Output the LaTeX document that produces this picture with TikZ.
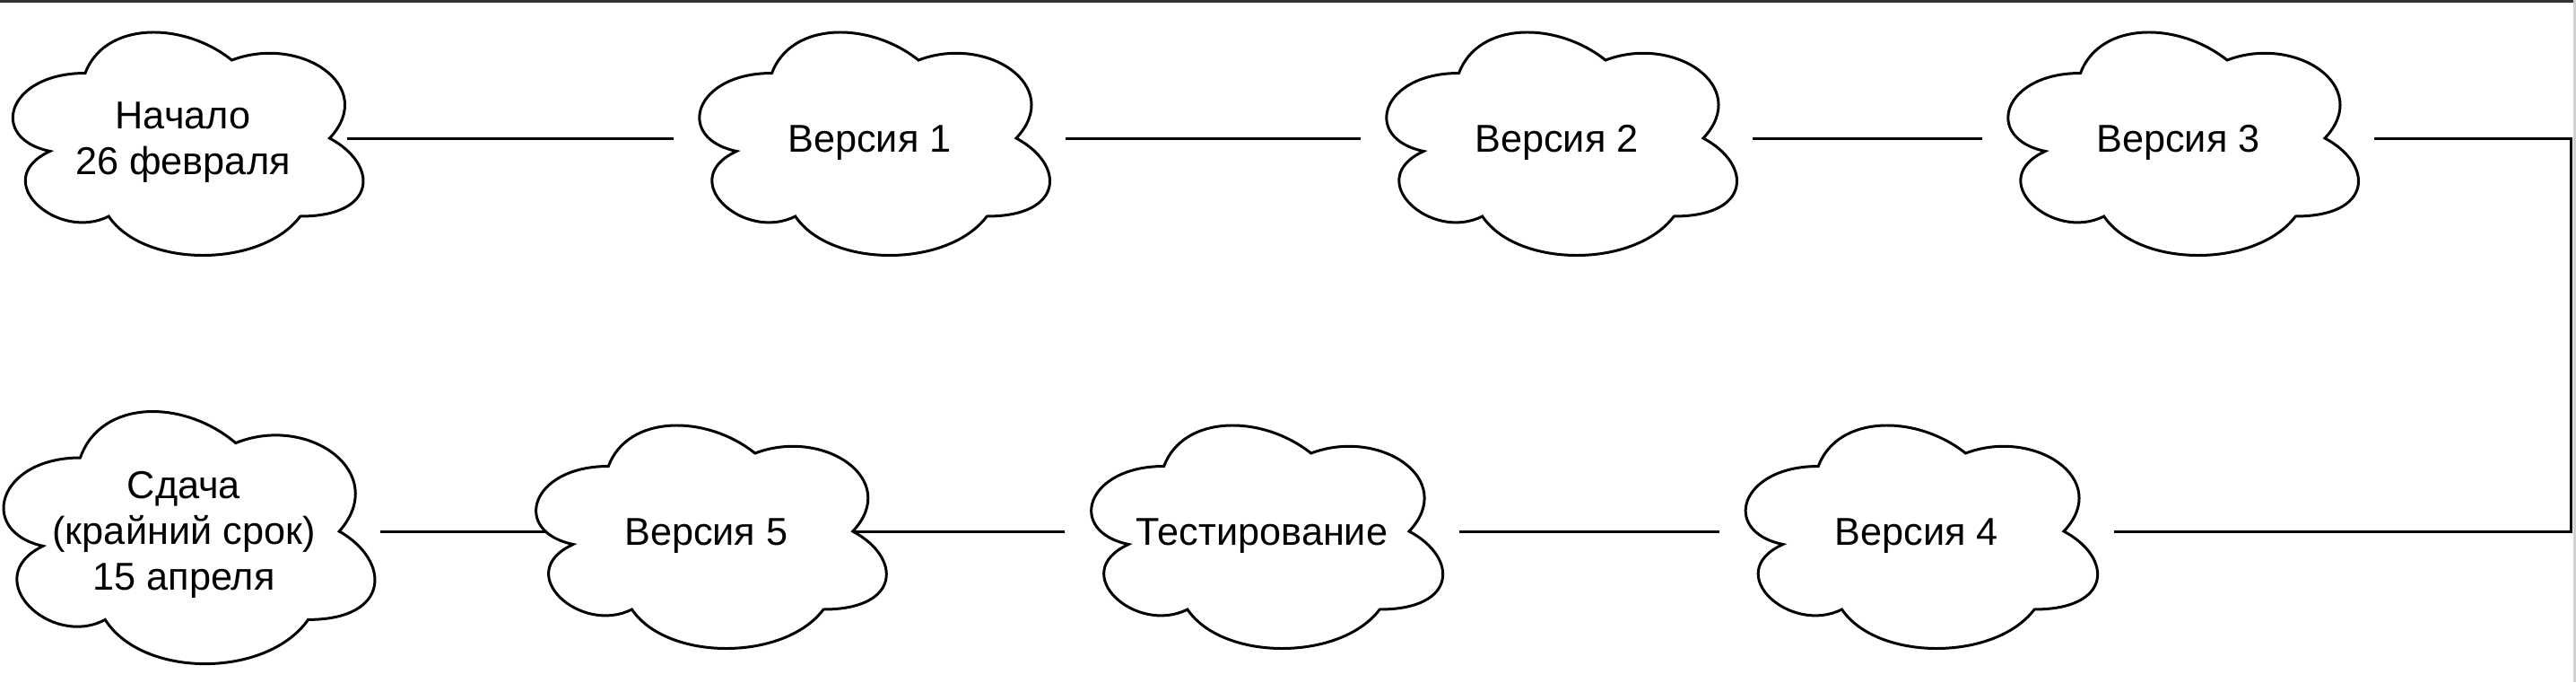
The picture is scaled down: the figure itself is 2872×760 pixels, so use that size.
\documentclass[tikz,border=0pt]{standalone}
\usepackage{fontspec}
\setmainfont{Liberation Sans}
\pgfdeclarelayer{background}
\pgfsetlayers{background,main}
\tikzset{
  cloudbox/.style={inner sep=0pt, minimum width=4.36cm, minimum height=2.9cm},
  cloudtext/.style={inner sep=0pt, align=center, font=\fontsize{12.3}{14.5}\selectfont},
  cloudline/.style={draw=black, line width=0.85pt, fill=white, line join=miter},
  conn/.style={draw=black, line width=0.85pt},
}
% #1 cx, #2 cy, #3 w, #4 h (pixels)
\newcommand\cloudshape[4]{%
  \begin{scope}[shift={(#1-#3/2,#2-#4/2)}, xscale=#3, yscale=#4]
    \path[cloudline] (0.25,0.25) .. controls (0.05,0.25) and (0,0.5) .. (0.16,0.55)
      .. controls (0,0.66) and (0.18,0.9) .. (0.31,0.8)
      .. controls (0.4,1) and (0.7,1) .. (0.8,0.8)
      .. controls (1,0.8) and (1,0.6) .. (0.875,0.5)
      .. controls (1,0.3) and (0.8,0.1) .. (0.625,0.2)
      .. controls (0.5,0.05) and (0.3,0.05) .. (0.25,0.25) -- cycle;
  \end{scope}}
\begin{document}
\begin{tikzpicture}[x=0.01cm, y=-0.01cm]
  \useasboundingbox (0,0) rectangle (2872,760);
  \fill[black!80] (0,0) rectangle (2872,3);
  \fill[black!18] (2869,0) rectangle (2872,760);

  % top row
  \cloudshape{204}{154}{436}{290}
  \node[cloudbox] (n1) at (204,154) {};
  \node[cloudtext] (n1t) at (204,159) {Начало\\26 февраля};
  \cloudshape{969.5}{154}{436}{290}
  \node[cloudbox] (v1) at (969.5,154) {};
  \node[cloudtext] (v1t) at (969.5,159) {Версия 1};
  \cloudshape{1735.5}{154}{436}{290}
  \node[cloudbox] (v2) at (1735.5,154) {};
  \node[cloudtext] (v2t) at (1735.5,159) {Версия 2};
  \cloudshape{2428.5}{154}{436}{290}
  \node[cloudbox] (v3) at (2428.5,154) {};
  \node[cloudtext] (v3t) at (2428.5,159) {Версия 3};

  % bottom row
  \cloudshape{205}{592}{462}{328}
  \node[cloudbox, minimum width=4.62cm, minimum height=3.28cm] (s) at (205,592) {};
  \node[cloudtext] (st) at (205,596) {Сдача\\(крайний срок)\\15 апреля};
  \cloudshape{787.3}{592}{436}{290}
  \node[cloudbox] (v5) at (787.3,592) {};
  \node[cloudtext] (v5t) at (787.3,597) {Версия 5};
  \cloudshape{1407}{592}{437.5}{290}
  \node[cloudbox, minimum width=4.375cm] (t) at (1407,592) {};
  \node[cloudtext] (tt) at (1407,597) {Тестирование};
  \cloudshape{2136.7}{592}{438}{290}
  \node[cloudbox, minimum width=4.38cm] (v4) at (2136.7,592) {};
  \node[cloudtext] (v4t) at (2136.7,597) {Версия 4};

  \coordinate (turn) at (2866,154);

  \begin{pgfonlayer}{background}
    \draw[conn] ([xshift=-0.355cm]n1.east) -- (v1.west);
    \draw[conn] (v1.east) -- (v2.west);
    \draw[conn] (v2.east) -- (v3.west);
    \draw[conn] (v3.east) -- (turn) |- (v4.east);
    \draw[conn] (v4.west) -- (t.east);
    \draw[conn] (t.west) -- (v5.center);
    \draw[conn] (v5.center) -- ([xshift=-0.13cm]s.east);
  \end{pgfonlayer}
\end{tikzpicture}
\end{document}
